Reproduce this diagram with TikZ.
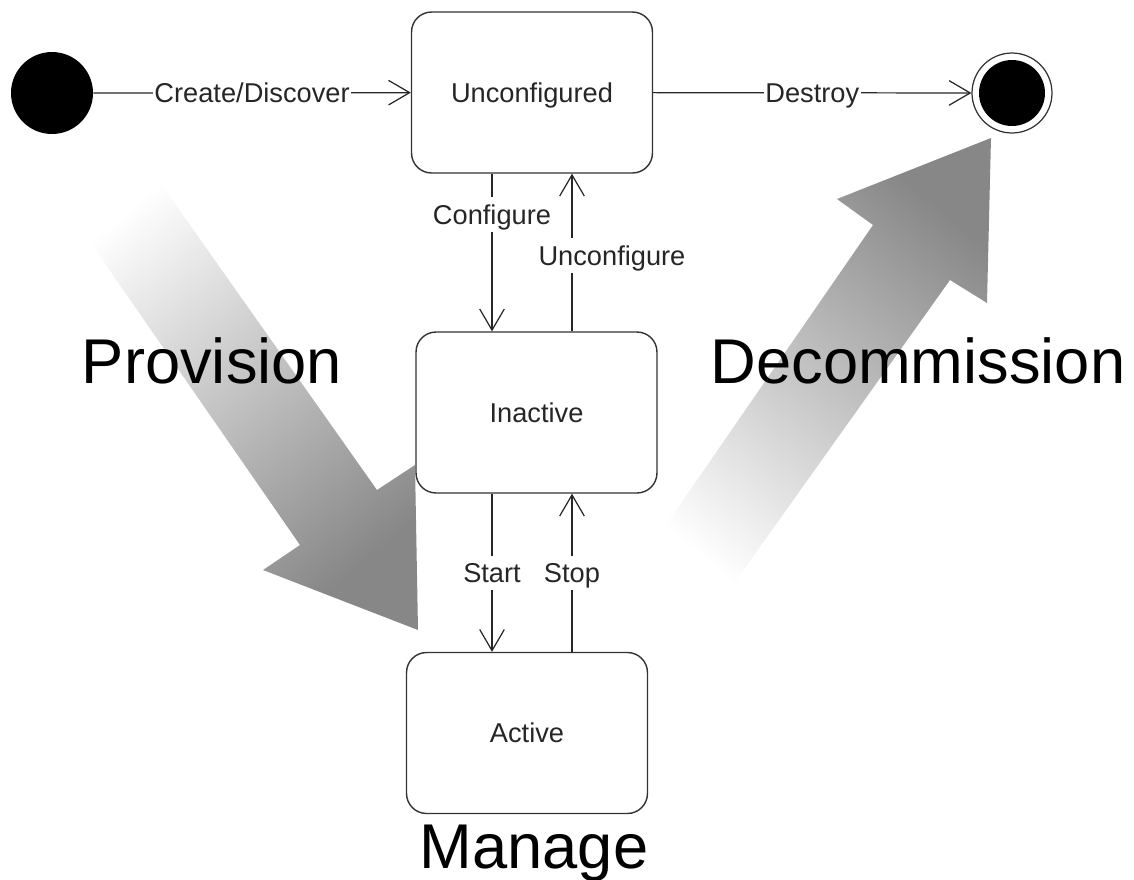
\documentclass[tikz,border=0pt]{standalone}
\usepackage{fontspec}
\setmainfont{Liberation Sans}
\usepackage{xcolor}
\usepackage{tikz}
\usetikzlibrary{shapes,arrows.meta,positioning,calc}

\begin{document}
\begin{tikzpicture}[
    x=0.02cm, y=-0.02cm,
    statebox/.style={rectangle, draw=black!80, line width=0.8pt, fill=white, rounded corners=0.4cm, minimum width=4.82cm, minimum height=3.22cm, text height=11pt, text depth=0pt, font=\fontsize{15.5}{18}\selectfont, text=black!85},
    startdot/.style={circle, fill=black, minimum size=1.64cm, inner sep=0pt},
    enddot/.style={circle, draw=black!80, line width=0.7pt, fill=white, minimum size=1.6cm, inner sep=0pt, path picture={\fill[black] (path picture bounding box.center) circle (0.66cm);}},
    trans/.style={-{Straight Barb[length=12pt, width=14pt]}, line width=0.7pt, black!85},
    lbl/.style={fill=white, inner sep=1pt, text height=14.3pt, text depth=3.3pt, font=\fontsize{15.5}{18}\selectfont, text=black!85},
    phase/.style={font=\fontsize{36}{40}\selectfont, inner sep=0pt, anchor=base},
    bigarrow/.style={top color=black!47, middle color=black!16, bottom color=white}
]
\useasboundingbox (0,0) rectangle (1134,880);

% Phase arrows
\shade[bigarrow, shading angle=-140] (63,203) -- (137,150) -- (377,490) -- (415,465) -- (418,630) -- (263,570) -- (300,545) -- cycle;
\shade[bigarrow, shading angle=-40] (637,567) -- (873,225) -- (837,199) -- (991,138) -- (987,303) -- (950,280) -- (710,617) -- cycle;

% Phase names
\node[phase] (prov) at (212,383) {Provision};
\node[phase] (decom) at (918,383) {Decommission};
\node[phase] (manage) at (534,868) {Manage};

% States
\node[startdot] (init) at (52,93) {};
\node[statebox] (unconf) at (532,92.5) {Unconfigured};
\node[enddot] (done) at (1012,93) {};
\node[statebox] (inact) at (536.5,412.5) {Inactive};
\node[statebox] (act) at (527,733) {Active};

% Transitions
\draw[trans] (init) -- node[lbl] {Create/Discover} (unconf);
\draw[trans] (unconf) -- node[lbl] {Destroy} (done);
\draw[trans] ([xshift=-0.8cm]unconf.south) -- node[lbl, pos=0.26] {Configure} ([xshift=-0.8cm]unconf.south |- inact.north);
\draw[trans] ([xshift=0.8cm]unconf.south |- inact.north) -- node[lbl, pos=0.48, xshift=0.8cm] {Unconfigure} ([xshift=0.8cm]unconf.south);
\draw[trans] ([xshift=-0.8cm]unconf.south |- inact.south) -- node[lbl] {Start} ([xshift=-0.8cm]unconf.south |- act.north);
\draw[trans] ([xshift=0.8cm]unconf.south |- act.north) -- node[lbl] {Stop} ([xshift=0.8cm]unconf.south |- inact.south);

\end{tikzpicture}
\end{document}
